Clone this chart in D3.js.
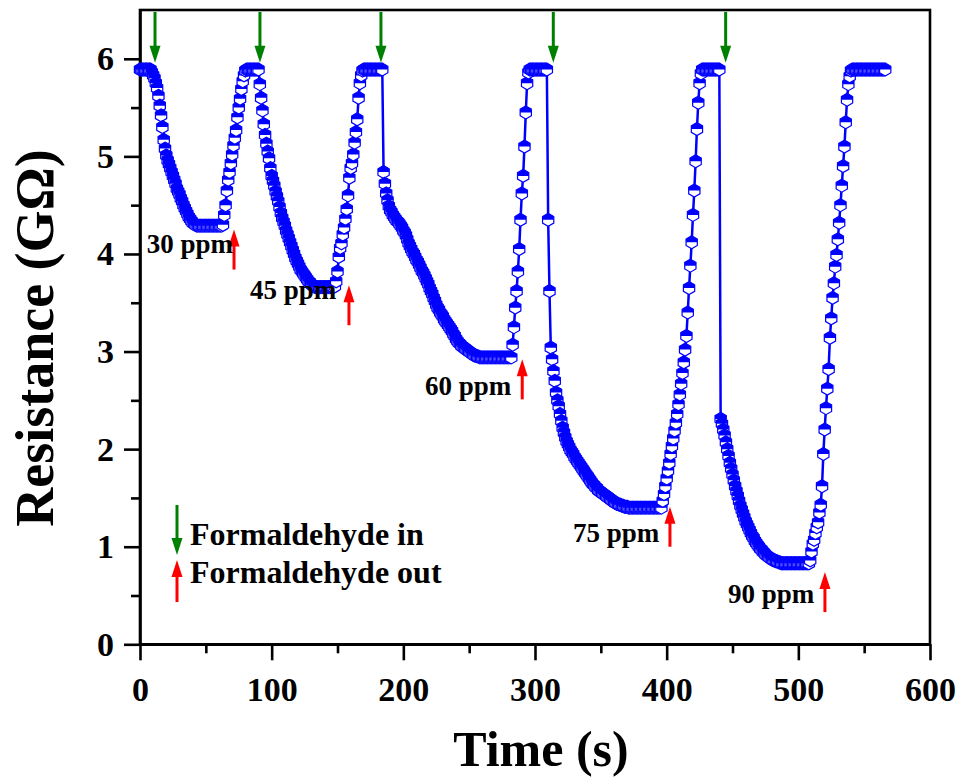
<!DOCTYPE html>
<html><head><meta charset="utf-8">
<script src="https://cdn.jsdelivr.net/npm/d3@7"></script>
<style>
body{margin:0;background:#fff}
svg{display:block}
text{font-family:"Liberation Serif","Times New Roman",serif;font-weight:bold;fill:#000}
</style>
</head><body>
<svg id="chart" width="961" height="783"></svg>
<script>
// Resistance (GΩ) sampled every second from t = 0 s
const sampleStep = 1;
const resistance = [
5.89,5.89,5.89,5.89,5.89,5.89,5.89,5.89,5.89,
5.86,5.83,5.80,5.75,5.70,5.62,5.52,5.42,5.30,5.17,5.08,5.01,4.96,4.92,4.88,4.84,4.80,4.76,4.72,4.67,4.64,4.61,4.57,4.54,4.50,4.47,4.44,4.41,4.38,4.36,4.34,4.32,4.31,4.30,
4.29,4.29,4.29,4.29,4.29,4.29,4.29,4.29,4.29,4.29,4.29,4.29,4.29,4.29,4.29,4.29,4.29,4.29,4.29,4.29,
4.30,4.40,4.50,4.65,4.76,4.84,4.93,5.02,5.11,5.19,5.27,5.40,5.50,5.59,5.69,5.77,5.83,5.88,
5.89,5.89,5.89,5.89,5.89,5.89,5.89,5.89,5.89,5.89,
5.74,5.60,5.47,5.33,5.22,5.13,5.05,4.98,4.88,4.80,4.75,4.70,4.64,4.59,4.54,4.48,4.42,4.37,4.33,4.29,4.24,4.20,4.16,4.12,4.08,4.04,4.00,3.96,3.93,3.90,3.87,3.84,3.82,3.80,3.78,3.76,3.74,3.72,3.71,3.69,3.68,3.67,
3.66,3.66,3.66,3.66,3.66,3.66,3.66,3.66,3.66,3.66,3.66,3.66,3.66,3.66,3.66,
3.67,3.72,3.82,3.97,4.06,4.11,4.20,4.27,4.36,4.46,4.60,4.78,4.88,4.93,5.02,5.14,5.25,5.38,5.60,5.75,5.83,5.88,
5.89,5.89,5.89,5.89,5.89,5.89,5.89,5.89,5.89,5.89,5.89,5.89,5.89,5.89,5.89,
4.84,4.72,4.62,4.55,4.49,4.45,4.43,4.40,4.38,4.36,4.34,4.33,4.31,4.29,4.27,4.24,4.22,4.19,4.15,4.11,
4.08,4.05,4.02,4.00,3.97,3.94,3.92,3.89,3.86,3.83,3.81,3.78,3.75,3.72,3.69,3.65,3.62,3.59,3.55,3.52,
3.48,3.45,3.43,3.40,3.38,3.36,3.33,3.31,3.29,3.27,3.25,3.23,3.21,3.18,3.16,3.13,3.11,3.09,3.08,3.06,
3.05,3.04,3.03,3.02,3.01,3.00,2.99,2.98,2.97,2.96,2.96,2.95,2.95,
2.94,2.94,2.94,2.94,2.94,2.94,2.94,2.94,2.94,2.94,2.94,2.94,2.94,2.94,2.94,2.94,2.94,2.94,2.94,2.94,2.94,2.94,2.94,2.94,2.94,
3.07,3.25,3.45,3.62,3.82,4.05,4.35,4.62,4.80,5.10,5.45,5.75,5.86,
5.89,5.89,5.89,5.89,5.89,5.89,5.89,5.89,5.89,5.89,5.89,5.89,5.89,5.89,
4.35,3.62,3.04,2.92,2.80,2.70,2.58,2.50,2.44,2.36,2.29,2.22,2.17,2.12,2.08,2.05,2.02,1.99,1.97,1.95,
1.92,1.90,1.88,1.86,1.84,1.82,1.80,1.78,1.76,1.74,1.72,1.70,1.68,1.66,1.64,1.63,1.61,1.60,1.58,1.57,
1.56,1.55,1.54,1.53,1.52,1.51,1.50,1.49,1.48,1.47,1.46,1.45,1.44,1.44,1.43,1.43,1.42,1.42,1.41,1.41,1.41,
1.40,1.40,1.40,1.40,1.40,1.40,1.40,1.40,1.40,1.40,1.40,1.40,1.40,1.40,1.40,1.40,1.40,1.40,1.40,1.40,1.40,1.40,1.40,1.40,1.40,1.40,
1.47,1.54,1.62,1.70,1.78,1.86,1.95,2.03,2.11,2.19,2.27,2.36,2.46,2.56,2.67,2.78,2.89,3.02,3.16,3.40,
3.65,3.88,4.12,4.40,4.65,4.95,5.28,5.55,5.75,5.85,
5.89,5.89,5.89,5.89,5.89,5.89,5.89,5.89,5.89,5.89,5.89,5.89,5.89,5.89,
2.31,2.26,2.20,2.14,2.07,2.00,1.93,1.86,1.80,1.74,1.68,1.62,1.57,1.52,1.47,1.42,1.38,1.34,1.30,1.26,
1.23,1.20,1.17,1.14,1.11,1.09,1.06,1.04,1.02,1.00,0.98,0.97,0.95,0.94,0.92,0.91,0.90,0.89,0.88,0.87,
0.86,0.86,0.85,0.85,0.84,0.84,
0.83,0.83,0.83,0.83,0.83,0.83,0.83,0.83,0.83,0.83,0.83,0.83,0.83,0.83,0.83,0.83,0.83,0.83,0.83,0.83,0.83,0.83,
0.86,0.95,1.03,1.07,1.14,1.20,1.25,1.35,1.43,1.62,1.95,2.20,2.42,2.62,2.82,3.14,3.34,3.55,3.70,3.87,
3.99,4.15,4.32,4.50,4.70,4.90,5.10,5.35,5.58,5.74,5.82,5.88,
5.89,5.89,5.89,5.89,5.89,5.89,5.89,5.89,5.89,5.89,5.89,5.89,5.89,5.89,5.89,5.89,5.89,5.89,5.89,5.89,5.89,5.89,5.89,5.89,5.89,5.89
];

const xTicks = [0, 100, 200, 300, 400, 500, 600];
const xMinorTicks = [50, 150, 250, 350, 450, 550];
const yTicks = [0, 1, 2, 3, 4, 5, 6];
const yMinorTicks = [0.5, 1.5, 2.5, 3.5, 4.5, 5.5];

// gas in (green, pointing down) and gas out (red, pointing up) markers
const inTimes = [11.4, 91.1, 183.0, 313.9, 444.8];
const inTip = [5.96, 5.96, 5.96, 5.96, 5.96];
const inTail = [6.48, 6.48, 6.48, 6.48, 6.48];
const outTimes = [71.4, 158.7, 290.3, 402.5, 520.2];
const outTip = [4.25, 3.68, 2.92, 1.41, 0.74];
const outTail = [3.84, 3.27, 2.51, 1.00, 0.33];

const concLabels = ["30 ppm", "45 ppm", "60 ppm", "75 ppm", "90 ppm"];
const concLabelTime = [5.1, 83.5, 216.5, 328.9, 446.5];
const concLabelValue = [4.01, 3.54, 2.55, 1.05, 0.42];

const legendLabels = ["Formaldehyde in", "Formaldehyde out"];

const svg = d3.select("#chart");
const L = 140, R = 930, T = 10, B = 644.3;
const x = d3.scaleLinear().domain([0, 600]).range([L, R]);
const y = d3.scaleLinear().domain([0, 6.5]).range([B, T]);
const BLUE = "#0000ff", GREEN = "#008000", RED = "#ff0000";

const pts = resistance.map((v, i) => ({t: i * sampleStep, v}));

// axes
const axisW = 2.6;
function styleAxis(g) {
  g.selectAll("path.domain").attr("stroke", "#000").attr("stroke-width", axisW);
  g.selectAll(".tick line").attr("stroke", "#000").attr("stroke-width", axisW);
  g.selectAll(".tick text").style("font-size", "34px").style("font-family", '"Liberation Serif","Times New Roman",serif').style("font-weight", "bold").attr("fill", "#000");
}
const gxMinor = svg.append("g").attr("transform", `translate(0,${B})`)
  .call(d3.axisBottom(x).tickValues(xMinorTicks).tickSize(9).tickFormat("").tickSizeOuter(0));
styleAxis(gxMinor); gxMinor.select("path.domain").remove();
const gx = svg.append("g").attr("transform", `translate(0,${B})`)
  .call(d3.axisBottom(x).tickValues(xTicks).tickSize(16).tickPadding(17).tickSizeOuter(0).tickFormat(d3.format("d")));
styleAxis(gx);
const gyMinor = svg.append("g").attr("transform", `translate(${L},0)`)
  .call(d3.axisLeft(y).tickValues(yMinorTicks).tickSize(9).tickFormat("").tickSizeOuter(0));
styleAxis(gyMinor); gyMinor.select("path.domain").remove();
const gy = svg.append("g").attr("transform", `translate(${L},0)`)
  .call(d3.axisLeft(y).tickValues(yTicks).tickSize(16).tickPadding(10).tickSizeOuter(0).tickFormat(d3.format("d")));
styleAxis(gy);

// frame
svg.append("rect").attr("x", L).attr("y", T).attr("width", R - L).attr("height", B - T)
  .attr("fill", "none").attr("stroke", "#000").attr("stroke-width", axisW);

// axis titles
svg.append("text").attr("x", 541).attr("y", 766).attr("text-anchor", "middle")
  .style("font-size", "50px").text("Time (s)");
svg.append("text").attr("transform", "translate(53,338) rotate(-90)").attr("text-anchor", "middle")
  .style("font-size", "54px").text("Resistance (GΩ)");

// data line
svg.append("path").datum(pts)
  .attr("d", d3.line().x(d => x(d.t)).y(d => y(d.v)))
  .attr("fill", "none").attr("stroke", BLUE).attr("stroke-width", 2.5).attr("stroke-linejoin", "round");

// hexagon markers, upper half filled
const r = 6.5, c30 = Math.cos(Math.PI / 6) * r;
const hexFull = `M0,${-r}L${c30},${-r/2}L${c30},${r/2}L0,${r}L${-c30},${r/2}L${-c30},${-r/2}Z`;
const hexTop = `M0,${-r}L${c30},${-r/2}L${c30},0L${-c30},0L${-c30},${-r/2}Z`;
const mk = svg.append("g").selectAll("g").data(pts).join("g")
  .attr("transform", d => `translate(${x(d.t)},${y(d.v)})`);
mk.append("path").attr("d", hexFull).attr("fill", "#fff").attr("stroke", BLUE).attr("stroke-width", 1.2);
mk.append("path").attr("d", hexTop).attr("fill", BLUE);

// arrows
function arrow(g, x0, yTail, yTip, color) {
  const dir = yTip > yTail ? 1 : -1;
  const headLen = 17, headW = 5.5;
  g.append("line").attr("x1", x0).attr("x2", x0).attr("y1", yTail).attr("y2", yTip - dir * headLen + dir * 2)
    .attr("stroke", color).attr("stroke-width", 3);
  g.append("path").attr("d", `M${x0 - headW},${yTip - dir * headLen}L${x0 + headW},${yTip - dir * headLen}L${x0},${yTip}Z`)
    .attr("fill", color);
}
const ag = svg.append("g");
inTimes.forEach((t, i) => arrow(ag, x(t), y(inTail[i]), y(inTip[i]), GREEN));
outTimes.forEach((t, i) => arrow(ag, x(t), y(outTail[i]), y(outTip[i]), RED));

// concentration labels
svg.append("g").selectAll("text").data(concLabels).join("text")
  .attr("x", (d, i) => x(concLabelTime[i])).attr("y", (d, i) => y(concLabelValue[i]))
  .style("font-size", "27px").text(d => d);

// legend
const lg = svg.append("g");
arrow(lg, 177, 505, 555, GREEN);
arrow(lg, 177, 602, 560, RED);
lg.selectAll("text").data(legendLabels).join("text")
  .attr("x", 190).attr("y", (d, i) => [545, 583][i])
  .style("font-size", "32px").text(d => d);
</script>
</body></html>
